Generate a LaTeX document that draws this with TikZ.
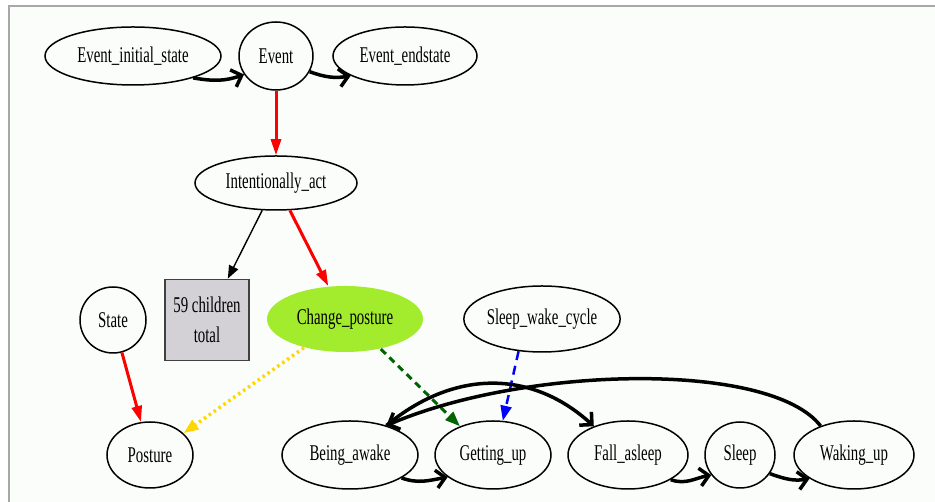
\documentclass[tikz,border=0pt]{standalone}
\usepackage{fontspec}
\setmainfont{Liberation Serif}[FakeStretch=0.66]
\usetikzlibrary{arrows.meta,shapes.geometric}
\definecolor{framegray}{RGB}{168,168,168}
\definecolor{paper}{RGB}{251,253,251}
\definecolor{boxgray}{RGB}{211,208,214}
\definecolor{postgreen}{RGB}{163,236,45}
\definecolor{dotgold}{RGB}{255,214,0}
\definecolor{dashgreen}{RGB}{0,100,0}
\tikzstyle{ell}=[shape=ellipse, draw=black, line width=1.5pt, inner sep=0]
\tikzstyle{flow}=[line width=3.5pt, -{Straight Barb[length=9pt,width=18pt]}]
\tikzstyle{isa}=[red, line width=3pt, -{Triangle[length=16pt,width=10pt]}]
\tikzstyle{link}=[line width=3pt, -{Triangle[length=15pt,width=11pt]}]

\begin{document}
\begin{tikzpicture}[x=1pt, y=1pt, font=\fontsize{22.5}{30}\selectfont]
\useasboundingbox (0,0) rectangle (935,502);
\fill[white] (0,0) rectangle (935,502);
\fill[paper] (10,0) rectangle (935,495);
\draw[framegray, line width=2pt] (9,0) -- (9,496) -- (935,496);
\node at (133,446)[ell, minimum width=176pt, minimum height=58pt](einit){Event\_initial\_state};
\node at (276,446)[ell, minimum width=74pt, minimum height=68pt](event){Event};
\node at (405,446)[ell, minimum width=144pt, minimum height=58pt](eend){Event\_endstate};
\node at (276,319)[ell, minimum width=162pt, minimum height=54pt](intent){Intentionally\_act};
\node at (207,182)[draw=black!75, line width=1.8pt, fill=boxgray, minimum width=84pt, minimum height=81pt, align=center, inner sep=0](children){59 children\\total};
\node at (113,182)[ell, minimum width=66pt, minimum height=66pt](state){State};
\node at (345,183)[ell, draw=none, fill=postgreen, minimum width=156pt, minimum height=66pt](change){Change\_posture};
\node at (542,183)[ell, minimum width=150pt, minimum height=66pt](swc){Sleep\_wake\_cycle};
\node at (150,47)[ell, minimum width=86pt, minimum height=66pt](posture){Posture};
\node at (350,47)[ell, minimum width=136pt, minimum height=68pt](awake){Being\_awake};
\node at (493,47)[ell, minimum width=116pt, minimum height=68pt](getup){Getting\_up};
\node at (628,47)[ell, minimum width=120pt, minimum height=68pt](fall){Fall\_asleep};
\node at (740,47)[ell, minimum width=70pt, minimum height=66pt](sleep){Sleep};
\node at (854,47)[ell, minimum width=120pt, minimum height=68pt](waking){Waking\_up};
\draw[flow] (einit.-20) to[out=-10, in=200] (event.210);
\draw[flow] (event.-25) to[out=-20, in=190] (eend.200);
\draw[isa] (event) -- (intent);
\draw[line width=1.4pt, -{Triangle[length=13pt,width=10pt]}] (intent) -- (children);
\draw[isa] (intent) -- (change);
\draw[isa] (state) -- (posture);
\draw[link, dotgold, line width=3.5pt, dash pattern=on 2.5pt off 3.5pt] (change.215) -- (posture.33);
\draw[link, dashgreen, dash pattern=on 7pt off 5pt] (change.-40) -- (getup.139);
\draw[link, blue, line width=2.5pt, dash pattern=on 9pt off 6pt] (swc.234) -- (getup.74);
\draw[flow] (awake.-24) to[out=-20, in=190] (getup.206);
\draw[flow] (fall.-30) to[out=-20, in=190] (sleep.215);
\draw[flow] (sleep.-32) to[out=-20, in=190] (waking.208);
\draw[flow] (waking.139) .. controls +(-50,65) and +(140,60) .. (awake.39);
\draw[flow] (awake.39) .. controls +(70,58) and +(-60,55) .. (fall.140);
\end{tikzpicture}
\end{document}
